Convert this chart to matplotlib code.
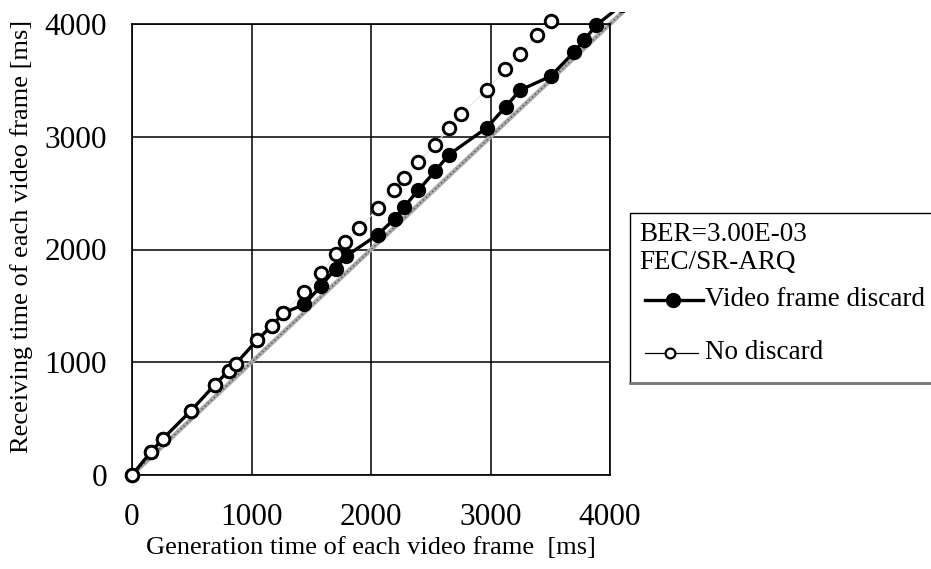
import matplotlib
matplotlib.use("Agg")
import matplotlib.pyplot as plt
from matplotlib.lines import Line2D
from matplotlib.patches import Rectangle

plt.rcParams['font.family'] = ['Liberation Serif', 'DejaVu Serif']

# generation time / receiving time of each frame [ms]
discard_gen = [0, 160, 257, 494, 692, 809, 870, 1049, 1169, 1266, 1442, 1584, 1705, 1788,
               2056, 2197, 2278, 2396, 2536, 2653, 2968, 3127, 3247, 3504, 3699, 3782, 3883, 4100]
discard_recv = [0, 207, 320, 571, 799, 926, 988, 1199, 1323, 1436, 1513, 1680, 1831, 1939,
                2131, 2272, 2380, 2526, 2694, 2842, 3079, 3266, 3413, 3537, 3751, 3854, 3988, 4170]

nodiscard_gen = [0, 160, 257, 494, 692, 809, 870, 1049, 1169, 1266, 1442, 1584, 1703, 1780,
                 1900, 2060, 2195, 2276, 2396, 2536, 2653, 2753, 2968, 3124, 3247, 3387, 3504]
nodiscard_recv = [0, 207, 320, 571, 799, 926, 988, 1199, 1323, 1436, 1625, 1791, 1960, 2065,
                  2191, 2364, 2528, 2635, 2777, 2925, 3079, 3203, 3413, 3603, 3730, 3901, 4023]

ideal = [0, 4200]
ticks = [0, 1000, 2000, 3000, 4000]

W, H = 931, 569
fig = plt.figure(figsize=(W / 100, H / 100), dpi=100)
ax = fig.add_axes([132 / W, 1 - 475 / H, 478 / W, 451 / H])


def fpos(x, y):
    # pixel position (from top left) -> figure fraction
    return x / W, 1 - y / H


# lines run a little past the plot frame
clip = Rectangle((-0.05, -0.05), 1.08, 1.076, transform=ax.transAxes, visible=False)
ax.add_patch(clip)

ref1, = ax.plot(ideal, ideal, color='#aaaaaa', lw=3.2, zorder=2)
ref2, = ax.plot(ideal, ideal, color='#555555', lw=1.0, ls=(0, (1, 2)), zorder=2.1)
nd_line, = ax.plot(nodiscard_gen, nodiscard_recv, color='#e6e6e6', lw=0.8, zorder=2.5)
d_line, = ax.plot(discard_gen, discard_recv, color='black', lw=2.4, marker='o', ms=10,
                  mfc='black', mec='black', zorder=3)
nd_pts, = ax.plot(nodiscard_gen, nodiscard_recv, ls='none', marker='o', ms=9,
                  mfc='white', mec='black', mew=2.1, zorder=4)
for ln in (ref1, ref2, nd_line, d_line, nd_pts):
    ln.set_clip_path(clip)

ax.set_xlim(0, 4000)
ax.set_ylim(0, 4000)
ax.set_xticks(ticks)
ax.set_yticks(ticks)
ax.tick_params(length=0, labelsize=22.5)
ax.tick_params(axis='x', pad=20)
ax.tick_params(axis='y', pad=18)
ax.grid(True, color='black', lw=1.1)
ax.set_axisbelow(True)
for sp in ax.spines.values():
    sp.set_color('black')
    sp.set_linewidth(1.2)

ax.set_xlabel("Generation time of each video frame  [ms]", fontsize=19)
ax.set_ylabel("Receiving time of each video frame [ms]", fontsize=19)
ax.xaxis.set_label_coords(0.5, -0.138)
ax.yaxis.set_label_coords(-0.208, 0.53)

# legend box drawn by hand
box = Rectangle(fpos(630, 383), 310 / W, 170 / H, transform=fig.transFigure,
                fill=False, edgecolor='black', lw=1.0)
fig.add_artist(box)
fig.add_artist(Line2D([630 / W, 1.0], [1 - 383 / H] * 2, transform=fig.transFigure,
                      color='#777777', lw=2.0))
fig.text(*fpos(639, 241), "BER=3.00E-03", fontsize=19.5, va='baseline')
fig.text(*fpos(639, 269), "FEC/SR-ARQ", fontsize=19.5, va='baseline')
fig.add_artist(Line2D([645 / W, 703 / W], [1 - 300 / H] * 2, transform=fig.transFigure,
                      color='black', lw=2.4))
fig.add_artist(Line2D([673 / W], [1 - 300 / H], transform=fig.transFigure,
                      marker='o', ms=10, color='black'))
fig.text(*fpos(705, 306), "Video frame discard", fontsize=19.5, va='baseline')
fig.add_artist(Line2D([645 / W, 698 / W], [1 - 353 / H] * 2, transform=fig.transFigure,
                      color='black', lw=0.9))
fig.add_artist(Line2D([670 / W], [1 - 353 / H], transform=fig.transFigure,
                      marker='o', ms=7, mfc='white', mec='black', mew=1.6))
fig.text(*fpos(705, 359), "No discard", fontsize=19.5, va='baseline')

fig.savefig("out.png", dpi=100)
